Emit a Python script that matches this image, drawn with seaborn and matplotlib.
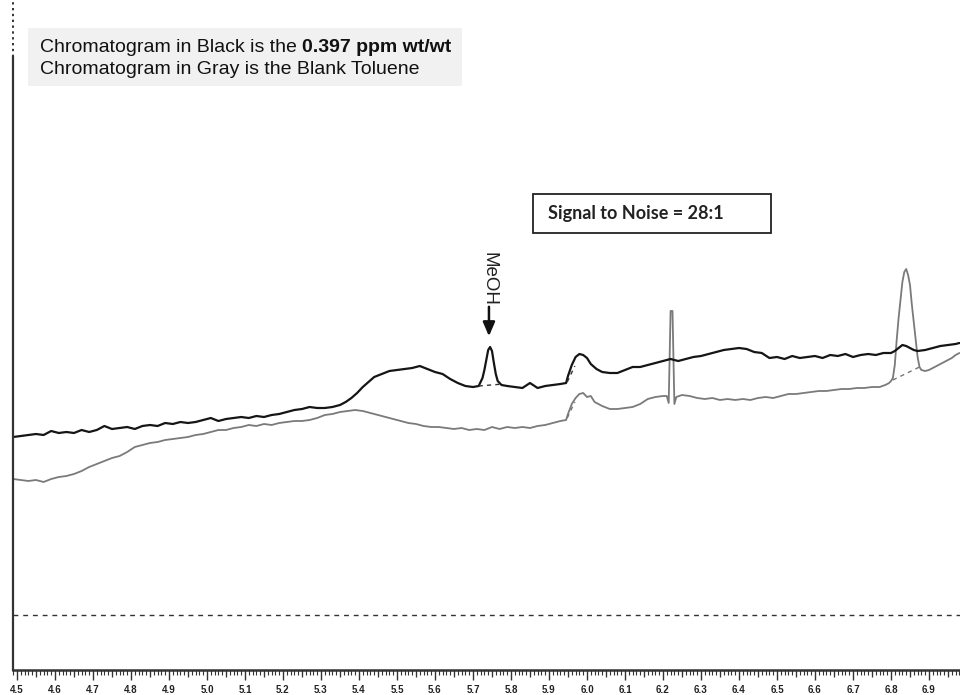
import matplotlib
matplotlib.use("Agg")
import matplotlib.pyplot as plt
from matplotlib.patches import Rectangle
from matplotlib.ticker import FixedLocator, MultipleLocator, NullFormatter
import pandas as pd
import seaborn as sns

# Sample chromatogram, 0.397 ppm wt/wt (black trace): retention time (min) / detector response
sample_time = [
    4.49, 4.51, 4.53, 4.55, 4.57, 4.59, 4.61, 4.63, 4.65, 4.67, 4.69, 4.71, 4.73, 4.75,
    4.77, 4.79, 4.81, 4.83, 4.85, 4.87, 4.89, 4.91, 4.93, 4.95, 4.97, 4.99, 5.01, 5.03,
    5.05, 5.07, 5.09, 5.11, 5.13, 5.15, 5.17, 5.19, 5.21, 5.23, 5.25, 5.27, 5.29, 5.31,
    5.33, 5.35, 5.365, 5.38, 5.395, 5.41, 5.425, 5.44, 5.46, 5.48, 5.50, 5.52, 5.54,
    5.56, 5.58, 5.60, 5.62, 5.64, 5.66, 5.68, 5.70, 5.715, 5.725, 5.73, 5.735, 5.74,
    5.745, 5.75, 5.755, 5.76, 5.765, 5.775, 5.79, 5.81, 5.83, 5.85, 5.87, 5.89, 5.91,
    5.93, 5.945, 5.95, 5.96, 5.97, 5.98, 5.99, 6.00, 6.01, 6.025, 6.04, 6.06, 6.08,
    6.10, 6.12, 6.14, 6.16, 6.18, 6.20, 6.22, 6.24, 6.26, 6.28, 6.30, 6.32, 6.34, 6.36,
    6.38, 6.40, 6.42, 6.44, 6.46, 6.48, 6.50, 6.52, 6.54, 6.56, 6.58, 6.60, 6.62, 6.64,
    6.66, 6.68, 6.70, 6.72, 6.74, 6.76, 6.78, 6.80, 6.81, 6.82, 6.83, 6.84, 6.85, 6.86,
    6.87, 6.89, 6.91, 6.93, 6.95, 6.97, 6.98,
]
sample_resp = [
    233, 234, 235, 236, 235, 239, 237, 238, 237, 240, 238, 240, 244, 241,
    242, 243, 241, 244, 245, 244, 247, 246, 248, 247, 248, 250, 252, 249,
    251, 252, 253, 252, 254, 253, 255, 256, 258, 260, 261, 263, 262, 262,
    263, 265, 268, 272, 277, 283, 288, 293, 296, 299, 300, 301, 302,
    304, 301, 298, 296, 291, 287, 284, 283, 284, 292, 300, 310, 320,
    323, 319, 307, 296, 289, 285, 284, 283, 282, 287, 282, 284, 285,
    286, 287, 294, 305, 313, 316, 315, 312, 306, 301, 298, 297, 297,
    300, 303, 303, 305, 307, 309, 311, 309, 311, 313, 314, 316, 318, 320,
    321, 322, 321, 318, 317, 312, 313, 311, 314, 312, 313, 314, 312, 315,
    314, 316, 313, 315, 316, 315, 317, 317, 319, 322, 325, 324, 322, 320,
    319, 320, 322, 324, 325, 326, 327,
]

# Blank toluene chromatogram (gray trace)
blank_time = [
    4.49, 4.51, 4.53, 4.55, 4.57, 4.59, 4.61, 4.63, 4.65, 4.67, 4.69, 4.71, 4.73, 4.75,
    4.77, 4.79, 4.81, 4.83, 4.85, 4.87, 4.89, 4.91, 4.93, 4.95, 4.97, 4.99, 5.01, 5.03,
    5.05, 5.07, 5.09, 5.11, 5.13, 5.15, 5.17, 5.19, 5.21, 5.23, 5.25, 5.27, 5.29, 5.31,
    5.33, 5.35, 5.37, 5.39, 5.41, 5.43, 5.45, 5.47, 5.49, 5.51, 5.53, 5.55, 5.57, 5.59,
    5.61, 5.63, 5.65, 5.67, 5.69, 5.71, 5.73, 5.75, 5.77, 5.79, 5.81, 5.83, 5.85, 5.87,
    5.89, 5.91, 5.93, 5.945, 5.95, 5.96, 5.97, 5.98, 5.99, 6.00, 6.01, 6.02, 6.04, 6.06,
    6.08, 6.10, 6.12, 6.14, 6.16, 6.18, 6.20, 6.21, 6.215, 6.22, 6.225, 6.23, 6.235,
    6.25, 6.27, 6.29, 6.31, 6.33, 6.35, 6.37, 6.39, 6.41, 6.43, 6.45, 6.47, 6.49, 6.51,
    6.53, 6.55, 6.57, 6.59, 6.61, 6.63, 6.65, 6.67, 6.69, 6.71, 6.73, 6.75, 6.77,
    6.785, 6.795, 6.80, 6.805, 6.81, 6.815, 6.82, 6.825, 6.83, 6.835, 6.84, 6.845,
    6.85, 6.855, 6.86, 6.865, 6.87, 6.875, 6.88, 6.89, 6.90, 6.91, 6.92, 6.93, 6.94,
    6.95, 6.96, 6.97, 6.98,
]
blank_resp = [
    191, 190, 189, 190, 188, 191, 193, 194, 196, 199, 203, 206, 209, 212,
    214, 218, 223, 225, 227, 228, 230, 231, 232, 233, 235, 236, 238, 240,
    240, 242, 243, 245, 244, 246, 245, 247, 248, 249, 249, 250, 252, 255,
    256, 258, 259, 260, 259, 257, 255, 253, 251, 249, 247, 246, 244, 243,
    243, 242, 241, 242, 240, 241, 240, 243, 241, 243, 242, 243, 242, 244,
    245, 247, 249, 250, 256, 266, 272, 276, 277, 273, 274, 268, 264, 261,
    261, 262, 263, 266, 271, 273, 274, 274, 267, 359, 359, 266, 273,
    275, 274, 272, 271, 272, 270, 271, 270, 271, 270, 272, 273, 272, 274,
    276, 276, 277, 278, 279, 279, 280, 281, 281, 282, 282, 283, 283,
    285, 287, 289, 292, 305, 330, 352, 370, 388, 398, 401, 395,
    385, 365, 348, 330, 313, 303, 300, 299, 300, 302, 304, 306, 308,
    310, 312, 315, 317,
]

# Peak-integration baselines (start/end time and response)
sample_base_time = [[5.715, 5.78], [5.948, 5.968]]
sample_base_resp = [[284, 286], [288, 304]]
blank_base_time = [[5.948, 5.968], [6.805, 6.875]]
blank_base_resp = [[252, 268], [290, 303]]

# Reference level line near the bottom of the plot
reference_level = 55

tick_values = [4.5, 4.6, 4.7, 4.8, 4.9, 5.0, 5.1, 5.2, 5.3, 5.4, 5.5, 5.6, 5.7,
               5.8, 5.9, 6.0, 6.1, 6.2, 6.3, 6.4, 6.5, 6.6, 6.7, 6.8, 6.9]
tick_labels = [f"{v:.1f}" for v in tick_values]

x_lo, x_hi = 4.4895, 6.9816
y_lo, y_hi = 0, 670

sns.set_theme(style="white")
plt.rcParams["font.family"] = ["Liberation Sans", "DejaVu Sans"]

W, H = 960, 695
fig = plt.figure(figsize=(W / 100, H / 100), dpi=100)
ax = fig.add_axes([13 / W, (H - 670) / H, (W - 13) / W, 670 / H])

df_sample = pd.DataFrame({"time": sample_time, "response": sample_resp})
df_blank = pd.DataFrame({"time": blank_time, "response": blank_resp})

sns.lineplot(data=df_blank, x="time", y="response", sort=False, estimator=None,
             color="#7a7a7a", linewidth=1.3, ax=ax)
sns.lineplot(data=df_sample, x="time", y="response", sort=False, estimator=None,
             color="#151515", linewidth=1.6, ax=ax)

for bt, br in zip(sample_base_time, sample_base_resp):
    ax.plot(bt, br, color="#333333", lw=1.0, ls=(0, (3, 3)))
for bt, br in zip(blank_base_time, blank_base_resp):
    ax.plot(bt, br, color="#777777", lw=1.0, ls=(0, (3, 3)))

ax.axhline(reference_level, color="#333333", lw=1.0, ls=(0, (3.5, 3.5)))

ax.set_xlim(x_lo, x_hi)
ax.set_ylim(y_lo, y_hi)
ax.set_xlabel("")
ax.set_ylabel("")
ax.set_yticks([])

for side in ("top", "right"):
    ax.spines[side].set_visible(False)
ax.spines["left"].set_color("#333333")
ax.spines["left"].set_linewidth(1.6)
ax.spines["left"].set_bounds(0, 613)
ax.spines["bottom"].set_color("#333333")
ax.spines["bottom"].set_linewidth(1.8)
ax.plot([x_lo, x_lo], [613, 670], color="#333333", lw=1.4, ls=(0, (1.2, 1.8)),
        clip_on=False)

# Time ruler: 0.1 min labelled, 0.05 min mid ticks, 0.01 min minor ticks
ax.xaxis.set_major_locator(FixedLocator(tick_values))
ax.set_xticklabels(tick_labels, fontsize=7, fontweight="bold", color="#222222")
ax.xaxis.set_minor_locator(MultipleLocator(0.01))
ax.tick_params(axis="x", which="major", direction="out", length=7, width=1.0,
               color="#333333", pad=4, bottom=True)
ax.tick_params(axis="x", which="minor", direction="out", length=3.5, width=0.8,
               color="#333333", bottom=True)
mid = ax.secondary_xaxis("bottom")
mid.set_xticks([v + 0.05 for v in tick_values])
mid.xaxis.set_major_formatter(NullFormatter())
mid.tick_params(axis="x", which="major", direction="out", length=5, width=0.9,
                color="#333333")
mid.spines["bottom"].set_visible(False)

# Annotation for the methanol peak
ax.annotate("", xy=(5.742, 331), xytext=(5.742, 366),
            arrowprops=dict(arrowstyle="-|>,head_length=0.7,head_width=0.3",
                            color="#111111", lw=1.8))
ax.text(5.742, 418, "MeOH", rotation=-90, ha="center", va="top", fontsize=13.5,
        color="#222222")

# Legend-style caption
fig.patches.append(Rectangle((28 / W, 1 - 86 / H), 434 / W, 58 / H,
                             transform=fig.transFigure, facecolor="#f1f1f1",
                             edgecolor="none", zorder=0))
t1 = fig.text(40 / W, 1 - 47 / H, "Chromatogram in Black is the ", fontsize=14,
              ha="left", va="center", color="#111111")
fig.canvas.draw()
ext = t1.get_window_extent(renderer=fig.canvas.get_renderer())
fig.text(ext.x1 / W, 1 - 47 / H, "0.397 ppm wt/wt", fontsize=14, fontweight="bold",
         ha="left", va="center", color="#111111")
fig.text(40 / W, 1 - 69 / H, "Chromatogram in Gray is the Blank Toluene", fontsize=14,
         ha="left", va="center", color="#111111")

# Signal-to-noise box
fig.patches.append(Rectangle((533 / W, 1 - 233 / H), 238 / W, 39 / H,
                             transform=fig.transFigure, facecolor="white",
                             edgecolor="#222222", linewidth=1.3))
fig.text(548 / W, 1 - 213 / H, "Signal to Noise = 28:1", fontsize=13,
         fontweight="bold", family=["Lato", "DejaVu Sans"], ha="left", va="center",
         color="#222222")

fig.savefig("out.png", dpi=100)
